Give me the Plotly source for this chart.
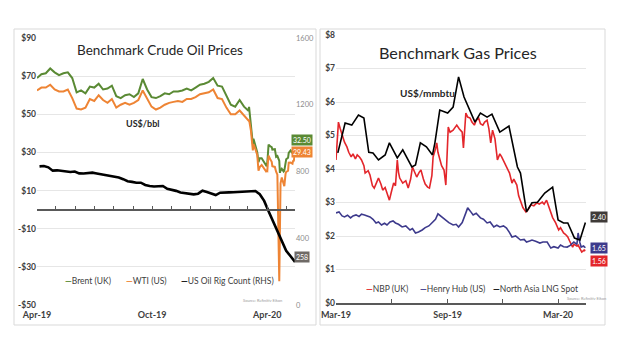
import plotly.graph_objects as go
import pandas as pd

# ---------------- Oil data ----------------
oil_dates = [
    "2019-04-01", "2019-04-08", "2019-04-15", "2019-04-22", "2019-04-29", "2019-05-06", "2019-05-13", "2019-05-20",
    "2019-05-27", "2019-06-03", "2019-06-10", "2019-06-17", "2019-06-24", "2019-07-01", "2019-07-08", "2019-07-15",
    "2019-07-22", "2019-07-29", "2019-08-05", "2019-08-12", "2019-08-19", "2019-08-26", "2019-09-02", "2019-09-09",
    "2019-09-16", "2019-09-23", "2019-09-30", "2019-10-07", "2019-10-14", "2019-10-21", "2019-10-28", "2019-11-04",
    "2019-11-11", "2019-11-18", "2019-11-25", "2019-12-02", "2019-12-09", "2019-12-16", "2019-12-23", "2019-12-30",
    "2020-01-06", "2020-01-13", "2020-01-20", "2020-01-27", "2020-02-03", "2020-02-10", "2020-02-17", "2020-02-24",
    "2020-03-02", "2020-03-03", "2020-03-06", "2020-03-09", "2020-03-10", "2020-03-13", "2020-03-16", "2020-03-18",
    "2020-03-20", "2020-03-23", "2020-03-27", "2020-03-30", "2020-03-31", "2020-04-01", "2020-04-02", "2020-04-03",
    "2020-04-06", "2020-04-08", "2020-04-09", "2020-04-13", "2020-04-15", "2020-04-17", "2020-04-20", "2020-04-21",
    "2020-04-22", "2020-04-24", "2020-04-27", "2020-04-28", "2020-04-30", "2020-05-01", "2020-05-04", "2020-05-05",
    "2020-05-08", "2020-05-11", "2020-05-12", "2020-05-13", "2020-05-14", "2020-05-15",
]
brent = [
    69.0, 71.0, 71.5, 74.0, 72.0, 70.5, 71.5, 72.0, 69.0, 61.5, 62.5, 61.0, 64.5, 64.0, 66.0, 63.0,
    63.5, 65.0, 59.5, 58.5, 60.0, 60.5, 59.0, 61.0, 68.5, 63.0, 59.0, 58.5, 59.5, 61.0, 60.5, 62.0,
    62.0, 62.5, 63.5, 62.5, 64.0, 65.5, 66.0, 67.0, 69.0, 65.0, 64.5, 59.5, 55.0, 54.0, 57.5, 54.0,
    51.9, 53.9, 45.3, 34.4, 37.2, 33.9, 30.1, 24.9, 27.0, 27.0, 24.9, 22.8, 22.7, 24.7, 29.9, 34.1,
    33.1, 32.8, 31.5, 31.7, 27.7, 28.1, 25.6, 19.3, 20.4, 21.4, 20.0, 20.5, 25.3, 26.4, 27.2, 29.7,
    31.0, 29.6, 30.0, 29.2, 31.1, 32.50,
]
wti = [
    62.5, 64.0, 64.0, 65.5, 63.0, 62.0, 62.0, 63.0, 58.5, 53.0, 52.5, 53.5, 58.0, 57.0, 60.0, 57.5,
    56.0, 58.0, 53.5, 55.0, 56.0, 55.0, 56.0, 57.5, 62.5, 58.5, 54.0, 52.5, 53.5, 55.0, 56.0, 56.5,
    57.0, 56.5, 58.0, 58.0, 59.0, 60.5, 61.0, 61.5, 63.0, 58.5, 58.0, 53.5, 50.0, 50.0, 52.0, 49.5,
    46.8, 47.2, 41.3, 31.1, 34.4, 31.7, 28.7, 20.4, 22.4, 23.4, 21.5, 20.1, 20.5, 20.3, 25.3, 28.3,
    26.1, 25.1, 22.8, 22.4, 19.9, 18.3, -37.6, 10.0, 13.8, 16.9, 12.8, 12.3, 18.8, 19.8, 20.4, 24.6,
    24.7, 24.1, 25.8, 25.3, 27.6, 29.43,
]
rig_dates = [d.strftime("%Y-%m-%d") for d in pd.date_range("2019-04-05", "2020-05-15", freq="W-FRI")]
rig_count = [
    831, 833, 825, 805, 807, 805, 802, 797, 800, 789, 788, 789, 793, 788, 784, 779, 776, 770, 764, 754,
    742, 738, 733, 733, 719, 713, 710, 712, 713, 696, 691, 684, 674, 671, 668, 663, 667, 685, 677, 670,
    659, 673, 676, 675, 676, 678, 679, 678, 682, 683, 664, 624, 562, 504, 438, 378, 325, 292, 258,
]
oil_ytick_vals = [90, 70, 50, 30, 10, -10, -30, -50]
oil_ytick_text = ["$90", "$70", "$50", "$30", "$10", "-$10", "-$30", "-$50"]
rig_ticks = [0, 400, 800, 1200, 1600]
oil_xtick_vals = ["2019-04-01", "2019-10-01", "2020-04-01"]
oil_xtick_text = ["Apr-19", "Oct-19", "Apr-20"]
oil_month_ticks = [d.strftime("%Y-%m-%d") for d in pd.date_range("2019-04-01", "2020-05-01", freq="MS")]

# ---------------- Gas data ----------------
nbp_dates = [
    "2019-03-01", "2019-03-05", "2019-03-08", "2019-03-12", "2019-03-15", "2019-03-19", "2019-03-22", "2019-03-26",
    "2019-03-29", "2019-04-02", "2019-04-05", "2019-04-09", "2019-04-12", "2019-04-16", "2019-04-18", "2019-04-23",
    "2019-04-26", "2019-04-30", "2019-05-03", "2019-05-07", "2019-05-10", "2019-05-14", "2019-05-17", "2019-05-21",
    "2019-05-24", "2019-05-28", "2019-05-31", "2019-06-04", "2019-06-07", "2019-06-10", "2019-06-12", "2019-06-14",
    "2019-06-19", "2019-06-24", "2019-06-28", "2019-07-02", "2019-07-05", "2019-07-09", "2019-07-12", "2019-07-16",
    "2019-07-19", "2019-07-23", "2019-07-26", "2019-07-30", "2019-08-02", "2019-08-06", "2019-08-08", "2019-08-12",
    "2019-08-14", "2019-08-16", "2019-08-19", "2019-08-22", "2019-08-26", "2019-08-29", "2019-09-02", "2019-09-05",
    "2019-09-10", "2019-09-13", "2019-09-16", "2019-09-20", "2019-09-25", "2019-09-27", "2019-10-01", "2019-10-04",
    "2019-10-08", "2019-10-11", "2019-10-15", "2019-10-18", "2019-10-22", "2019-10-25", "2019-10-29", "2019-11-01",
    "2019-11-05", "2019-11-08", "2019-11-11", "2019-11-14", "2019-11-18", "2019-11-22", "2019-11-26", "2019-11-29",
    "2019-12-03", "2019-12-06", "2019-12-10", "2019-12-12", "2019-12-16", "2019-12-19", "2019-12-24", "2019-12-27",
    "2019-12-31", "2020-01-03", "2020-01-08", "2020-01-12", "2020-01-16", "2020-01-21", "2020-01-26", "2020-01-30",
    "2020-02-04", "2020-02-07", "2020-02-11", "2020-02-14", "2020-02-18", "2020-02-21", "2020-02-26", "2020-03-02",
    "2020-03-05", "2020-03-10", "2020-03-13", "2020-03-17", "2020-03-20", "2020-03-25", "2020-03-27", "2020-04-01",
    "2020-04-03", "2020-04-07", "2020-04-09", "2020-04-13", "2020-04-15",
]
nbp = [
    4.27, 5.40, 5.20, 4.96, 4.80, 4.66, 4.50, 4.36, 4.45, 4.30, 4.42, 4.35, 4.27, 4.10, 3.88, 3.95,
    3.82, 3.50, 3.43, 3.60, 3.73, 3.55, 3.37, 3.45, 3.31, 3.07, 3.30, 3.58, 3.50, 4.27, 3.90, 3.73,
    3.58, 3.65, 3.43, 3.70, 4.06, 3.85, 3.76, 3.90, 3.97, 3.70, 3.55, 3.46, 3.43, 3.80, 4.36, 4.60,
    4.78, 4.50, 4.27, 4.10, 3.97, 3.52, 5.25, 5.10, 5.16, 5.25, 5.31, 5.20, 5.10, 4.63, 5.67, 5.55,
    5.52, 5.40, 5.31, 5.45, 5.52, 5.35, 5.31, 5.40, 5.46, 5.20, 4.78, 5.16, 4.90, 4.27, 4.45, 4.36,
    4.20, 4.06, 3.95, 3.88, 3.58, 3.70, 3.52, 3.20, 2.99, 2.85, 2.72, 2.80, 2.93, 2.90, 2.99, 2.95,
    3.01, 2.95, 3.07, 2.90, 2.69, 2.55, 2.39, 2.18, 2.25, 2.09, 2.05, 1.97, 1.85, 1.67, 1.75, 1.70,
    1.73, 1.60, 1.52, 1.58, 1.56,
]
hh_dates = [
    "2019-03-01", "2019-03-06", "2019-03-11", "2019-03-15", "2019-03-20", "2019-03-25", "2019-03-29", "2019-04-03",
    "2019-04-08", "2019-04-12", "2019-04-17", "2019-04-22", "2019-04-26", "2019-05-01", "2019-05-06", "2019-05-10",
    "2019-05-15", "2019-05-20", "2019-05-24", "2019-05-29", "2019-06-03", "2019-06-07", "2019-06-12", "2019-06-18",
    "2019-06-24", "2019-07-01", "2019-07-05", "2019-07-10", "2019-07-15", "2019-07-21", "2019-07-26", "2019-08-01",
    "2019-08-06", "2019-08-12", "2019-08-16", "2019-08-21", "2019-08-28", "2019-09-03", "2019-09-10", "2019-09-15",
    "2019-09-19", "2019-09-25", "2019-10-01", "2019-10-04", "2019-10-08", "2019-10-13", "2019-10-18", "2019-10-25",
    "2019-10-30", "2019-11-05", "2019-11-10", "2019-11-16", "2019-11-21", "2019-11-26", "2019-12-02", "2019-12-07",
    "2019-12-12", "2019-12-16", "2019-12-22", "2019-12-30", "2020-01-05", "2020-01-09", "2020-01-14", "2020-01-18",
    "2020-01-24", "2020-01-31", "2020-02-05", "2020-02-12", "2020-02-18", "2020-02-23", "2020-03-01", "2020-03-05",
    "2020-03-10", "2020-03-16", "2020-03-21", "2020-03-27", "2020-04-01", "2020-04-03", "2020-04-06", "2020-04-08",
    "2020-04-12", "2020-04-15",
]
henry_hub = [
    2.69, 2.72, 2.60, 2.57, 2.62, 2.54, 2.60, 2.63, 2.58, 2.65, 2.63, 2.60, 2.57, 2.50, 2.39, 2.42,
    2.33, 2.38, 2.33, 2.42, 2.45, 2.39, 2.35, 2.27, 2.30, 2.18, 2.22, 2.09, 2.12, 2.18, 2.25, 2.30,
    2.39, 2.50, 2.66, 2.58, 2.48, 2.40, 2.33, 2.35, 2.27, 2.40, 2.69, 2.84, 2.75, 2.63, 2.68, 2.54,
    2.50, 2.39, 2.42, 2.27, 2.32, 2.27, 2.30, 2.24, 2.10, 1.97, 2.00, 1.88, 1.90, 1.82, 1.85, 1.88,
    1.84, 1.79, 1.82, 1.82, 1.64, 1.68, 1.64, 1.73, 1.68, 1.67, 1.72, 1.82, 1.75, 2.09, 1.80, 1.67,
    1.70, 1.65,
]
lng_dates = [
    "2019-03-04", "2019-03-16", "2019-03-27", "2019-04-07", "2019-04-16", "2019-04-24", "2019-05-01", "2019-05-10",
    "2019-05-21", "2019-05-28", "2019-06-10", "2019-06-19", "2019-07-04", "2019-07-10", "2019-07-18", "2019-07-28",
    "2019-08-07", "2019-08-11", "2019-08-19", "2019-09-01", "2019-09-10", "2019-09-19", "2019-09-28", "2019-10-07",
    "2019-10-16", "2019-10-25", "2019-11-05", "2019-11-13", "2019-11-26", "2019-12-11", "2019-12-25", "2019-12-30",
    "2020-01-09", "2020-01-18", "2020-01-27", "2020-02-08", "2020-02-21", "2020-03-01", "2020-03-10", "2020-03-17",
    "2020-03-28", "2020-04-06", "2020-04-15",
]
lng_spot = [
    4.48, 5.37, 5.31, 5.61, 5.52, 4.50, 4.48, 4.27, 4.42, 4.78, 4.33, 4.57, 4.06, 4.12, 4.78, 4.66,
    4.42, 4.78, 5.76, 5.67, 5.85, 6.75, 6.15, 5.76, 5.40, 5.67, 5.55, 5.64, 5.10, 5.28, 4.06, 3.88,
    2.72, 2.99, 3.01, 3.28, 3.46, 2.48, 2.39, 2.39, 1.94, 1.88, 2.40,
]
gas_ytick_vals = [0, 1, 2, 3, 4, 5, 6, 7, 8]
gas_ytick_text = ["$0", "$1", "$2", "$3", "$4", "$5", "$6", "$7", "$8"]
gas_xtick_vals = ["2019-03-01", "2019-06-01", "2019-09-01", "2019-12-01", "2020-03-01"]
gas_xtick_text = ["Mar-19", "", "Sep-19", "", "Mar-20"]

# ---------------- styling ----------------
W, H = 620, 355
FONT = "Lato, Roboto, Liberation Sans, sans-serif"
C_BRENT, C_WTI, C_RIG = "#5a8a34", "#ee8434", "#000000"
C_NBP, C_HH, C_LNG = "#e3262b", "#3d3a8c", "#000000"
AXC = "#595959"
TXT = "#404040"


def px(x):
    return x / W


def py(y):
    return 1 - y / H


oil_dom_x = [px(37), px(295)]
oil_dom_y = [py(305), py(38)]
oil_range = [-50, 90]
oil_xrange = ["2019-04-01", "2020-05-15"]
gas_dom_x = [px(336), px(586)]
gas_dom_y = [py(303), py(35)]
gas_xrange = ["2019-03-01", "2020-04-16"]

zero_pos = oil_dom_y[0] + (0 - oil_range[0]) / (oil_range[1] - oil_range[0]) * (oil_dom_y[1] - oil_dom_y[0])

fig = go.Figure()
fig.add_trace(go.Scatter(x=oil_dates, y=brent, mode="lines", name="Brent (UK)",
                         line=dict(color=C_BRENT, width=2), xaxis="x", yaxis="y"))
fig.add_trace(go.Scatter(x=oil_dates, y=wti, mode="lines", name="WTI (US)",
                         line=dict(color=C_WTI, width=2), xaxis="x", yaxis="y"))
fig.add_trace(go.Scatter(x=rig_dates, y=rig_count, mode="lines", name="US Oil Rig Count (RHS)",
                         line=dict(color=C_RIG, width=2.6), xaxis="x", yaxis="y2"))
# invisible helper so the zero-line axis is drawn
fig.add_trace(go.Scatter(x=oil_xrange, y=[None, None], mode="lines", showlegend=False,
                         hoverinfo="skip", xaxis="x3", yaxis="y"))
fig.add_trace(go.Scatter(x=nbp_dates, y=nbp, mode="lines", name="NBP (UK)",
                         line=dict(color=C_NBP, width=1.6), xaxis="x2", yaxis="y3"))
fig.add_trace(go.Scatter(x=hh_dates, y=henry_hub, mode="lines", name="Henry Hub (US)",
                         line=dict(color=C_HH, width=1.6), xaxis="x2", yaxis="y3"))
fig.add_trace(go.Scatter(x=lng_dates, y=lng_spot, mode="lines", name="North Asia LNG Spot",
                         line=dict(color=C_LNG, width=1.6), xaxis="x2", yaxis="y3"))

ytick_font = dict(family=FONT, size=8.5, color=TXT, weight="bold")
xtick_font = dict(family=FONT, size=9, color=TXT, weight="bold")

fig.update_layout(
    width=W, height=H, margin=dict(l=0, r=0, t=0, b=0),
    paper_bgcolor="white", plot_bgcolor="rgba(0,0,0,0)",
    showlegend=False, font=dict(family=FONT, color=TXT),
    xaxis=dict(domain=oil_dom_x, anchor="y", range=oil_xrange, type="date",
               tickvals=oil_xtick_vals, ticktext=oil_xtick_text, showline=False, showgrid=False,
               zeroline=False, ticks="", tickfont=xtick_font, ticklabelstandoff=3, automargin=False),
    xaxis3=dict(domain=oil_dom_x, overlaying="x", anchor="free", position=zero_pos,
                range=oil_xrange, type="date", showline=True, linecolor=AXC, linewidth=1.5,
                ticks="inside", ticklen=3, tickwidth=1, tickcolor=AXC, tickvals=oil_month_ticks,
                showticklabels=False, showgrid=False, zeroline=False, automargin=False),
    yaxis=dict(domain=oil_dom_y, anchor="x", range=oil_range, tickvals=oil_ytick_vals,
               ticktext=oil_ytick_text, showgrid=True, gridcolor="#e6e6e6", gridwidth=1,
               zeroline=False, showline=False, tickfont=ytick_font, automargin=False),
    yaxis2=dict(overlaying="y", anchor="x", side="right", range=[0, 1600], tickvals=rig_ticks,
                showgrid=False, zeroline=False, showline=False,
                tickfont=dict(family=FONT, size=7.5, color="#8c8c8c"), automargin=False),
    xaxis2=dict(domain=gas_dom_x, anchor="y3", range=gas_xrange, type="date",
                tickvals=gas_xtick_vals, ticktext=gas_xtick_text, showline=True, linecolor=AXC,
                linewidth=1.5, ticks="inside", ticklen=4, tickcolor=AXC, showgrid=False,
                zeroline=False, tickfont=xtick_font, ticklabelstandoff=2, automargin=False),
    yaxis3=dict(domain=gas_dom_y, anchor="x2", range=[0, 8], tickvals=gas_ytick_vals,
                ticktext=gas_ytick_text, showgrid=True, gridcolor="#e6e6e6", zeroline=False,
                showline=False, tickfont=ytick_font, automargin=False),
)

# panel borders
for x0, x1 in [(14, 316), (320, 605)]:
    fig.add_shape(type="rect", xref="paper", yref="paper", x0=px(x0), x1=px(x1), y0=py(325), y1=py(29),
                  line=dict(color="#d9d9d9", width=1), fillcolor="rgba(0,0,0,0)", layer="below")

ann = []
# titles
ann.append(dict(text="Benchmark Crude Oil Prices", x=px(160), y=py(50), font=dict(size=13.5, color="#262626")))
ann.append(dict(text="Benchmark Gas Prices", x=px(458), y=py(52), font=dict(size=16.2, color="#262626")))
ann.append(dict(text="<b>US$/bbl</b>", x=px(142), y=py(124), font=dict(size=9, color="#262626")))
ann.append(dict(text="<b>US$/mmbtu</b>", x=px(427), y=py(93), font=dict(size=10, color="#262626")))
# legends
leg_font = dict(size=8.5, color=TXT)
for txt, col, xx in [("Brent (UK)", C_BRENT, 63), ("WTI (US)", C_WTI, 124),
                     ("US Oil Rig Count (RHS)", C_RIG, 179)]:
    ann.append(dict(text=f"<span style='color:{col}'><b>—</b></span>{txt}", x=px(xx), y=py(281),
                    xanchor="left", font=leg_font))
for txt, col, xx in [("NBP (UK)", C_NBP, 364), ("Henry Hub (US)", C_HH, 418),
                     ("North Asia LNG Spot", C_LNG, 491)]:
    ann.append(dict(text=f"<span style='color:{col}'><b>—</b></span>{txt}", x=px(xx), y=py(289),
                    xanchor="left", font=leg_font))
# sources
ann.append(dict(text="Source: Refinitiv Eikon", x=px(262), y=py(300), font=dict(size=4, color="#9a9a9a")))
ann.append(dict(text="Source: Refinitiv Eikon", x=px(586), y=py(298), font=dict(size=4, color="#9a9a9a")))
for a in ann:
    a.setdefault("xref", "paper")
    a.setdefault("yref", "paper")
    a.setdefault("showarrow", False)
    a.setdefault("xanchor", "center")
    a.setdefault("yanchor", "middle")
    fig.add_annotation(**a)

# end-value labels
box_font = dict(family=FONT, size=7, color="white")
for val, fmt, col, yref, ys in [(brent[-1], "{:.2f}", C_BRENT, "y", 8), (wti[-1], "{:.2f}", C_WTI, "y", 2),
                                (rig_count[-1], "{:d}", "#6f6a66", "y2", 5)]:
    fig.add_annotation(text=fmt.format(val), x=px(301.5), xref="paper", y=val, yref=yref, yshift=ys,
                       showarrow=False, bgcolor=col, font=box_font, borderpad=1,
                       xanchor="center", yanchor="middle")
for val, col, ys in [(lng_spot[-1], "#3f3b38", 6), (henry_hub[-1], C_HH, 0), (nbp[-1], C_NBP, -10)]:
    fig.add_annotation(text=f"{val:.2f}", x=px(598.5), xref="paper", y=val, yref="y3", yshift=ys,
                       showarrow=False, bgcolor=col, font=box_font, borderpad=1,
                       xanchor="center", yanchor="middle")

# remove the browser's default page margin so the figure sits at the window's top-left
fig.write_html("out.html", config={"displayModeBar": False},
               post_script="document.body.style.margin='0';document.body.style.overflow='hidden';")
